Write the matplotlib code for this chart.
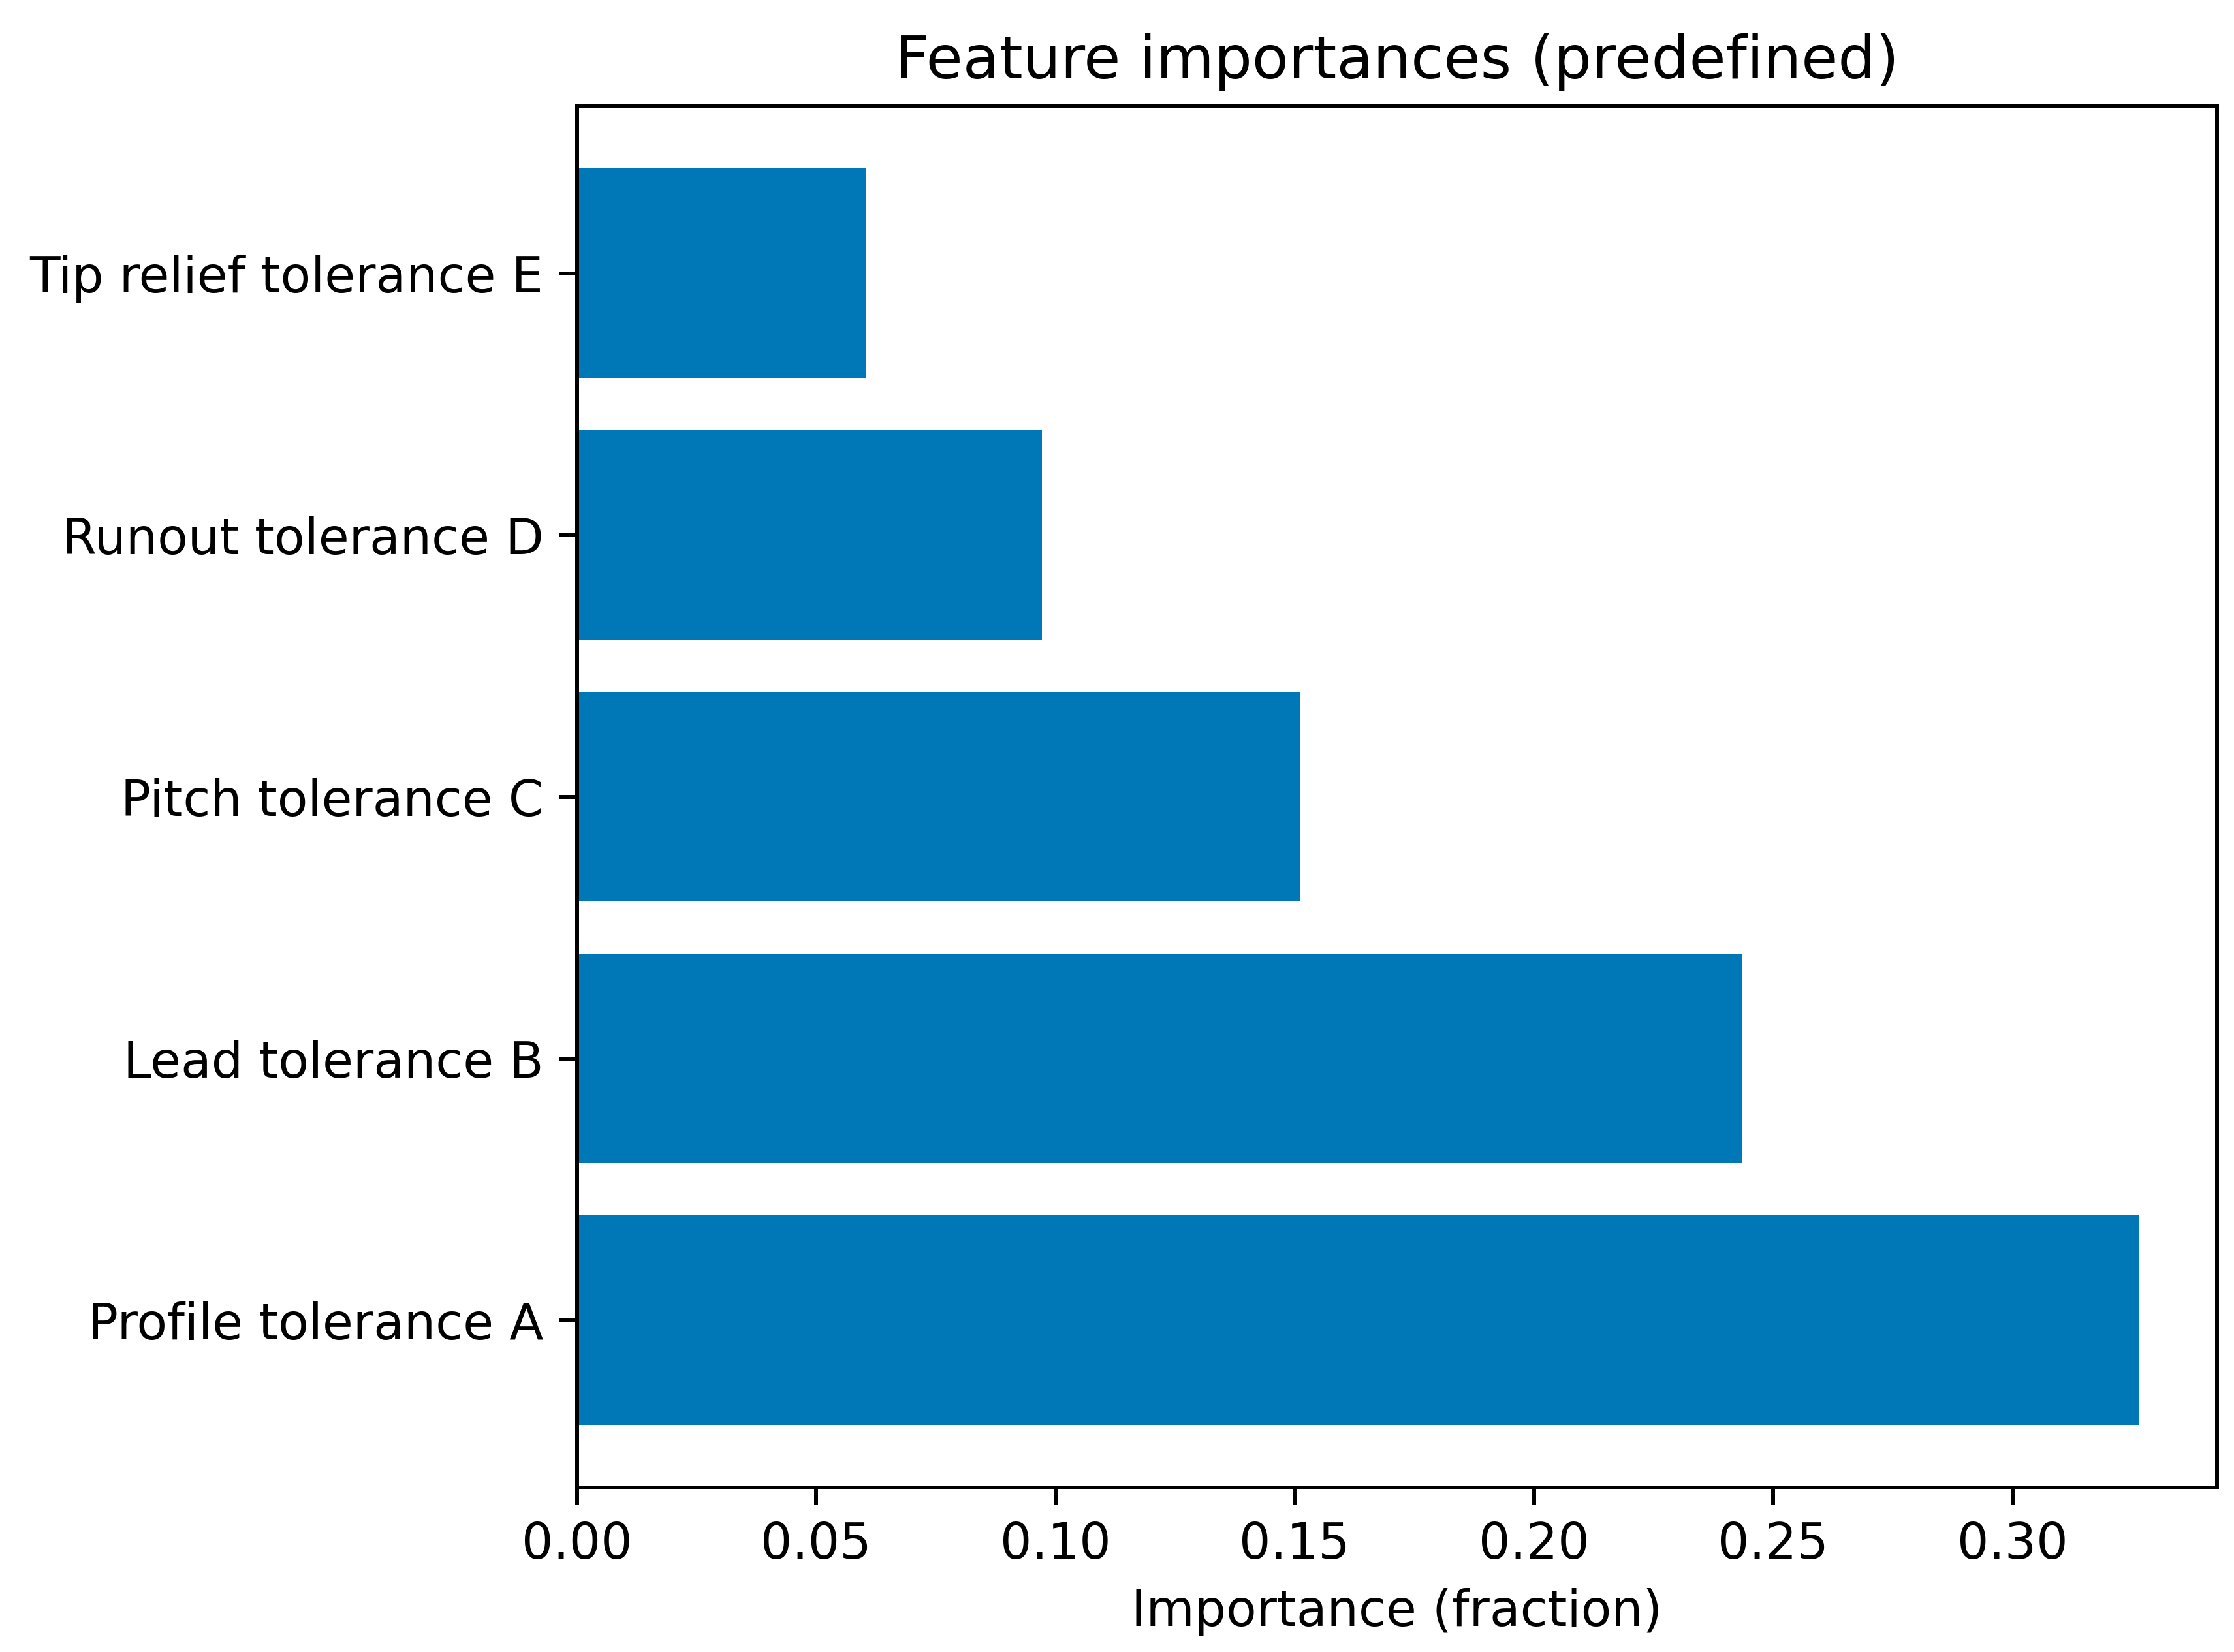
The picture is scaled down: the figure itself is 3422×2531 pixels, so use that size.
import matplotlib
matplotlib.use("Agg")
from matplotlib import pyplot as plt

features = ["Profile tolerance A", "Lead tolerance B", "Pitch tolerance C",
            "Runout tolerance D", "Tip relief tolerance E"]
importances = [0.3264, 0.2436, 0.1512, 0.0972, 0.0603]

plt.rcParams["font.size"] = 10.85
plt.rcParams["axes.titlesize"] = 13.0
plt.rcParams["axes.linewidth"] = 0.85
plt.rcParams["xtick.major.width"] = 0.85
plt.rcParams["ytick.major.width"] = 0.85
plt.rcParams["xtick.major.size"] = 3.8
plt.rcParams["ytick.major.size"] = 3.8

dpi = 506
fig, ax = plt.subplots(figsize=(3422 / dpi, 2531 / dpi), dpi=dpi)
fig.subplots_adjust(left=0.2583, right=0.9923, bottom=0.0995, top=0.936)

ax.barh(features, importances, color="#0077b6")
ax.set_xlabel("Importance (fraction)")
ax.set_title("Feature importances (predefined)")

fig.savefig("out.png", dpi=dpi)
